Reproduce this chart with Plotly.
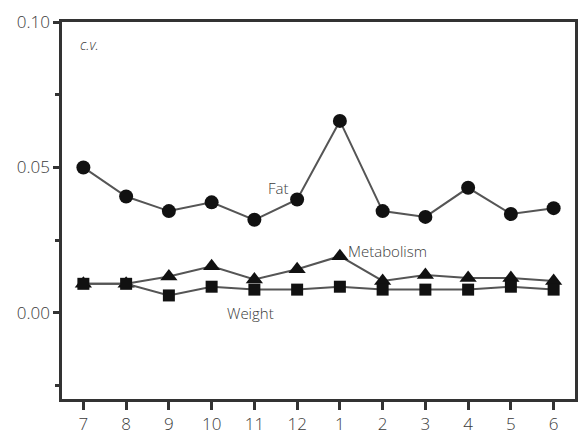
import plotly.graph_objects as go

months = ["7", "8", "9", "10", "11", "12", "1", "2", "3", "4", "5", "6"]
fat = [0.050, 0.040, 0.035, 0.038, 0.032, 0.039, 0.066, 0.035, 0.033, 0.043, 0.034, 0.036]
metabolism = [0.010, 0.010, 0.0125, 0.016, 0.0115, 0.015, 0.0195, 0.011, 0.013, 0.012, 0.012, 0.011]
weight = [0.010, 0.010, 0.006, 0.009, 0.008, 0.008, 0.009, 0.008, 0.008, 0.008, 0.009, 0.008]

xi = list(range(len(months)))
line_col = "#555555"
mk_col = "#111111"
txt_col = "#3a3a3a"
FAM = "Open Sans"

fig = go.Figure()
for ys, sym, sz in [(fat, "circle", 14), (metabolism, "triangle-up", 15), (weight, "square", 12)]:
    fig.add_trace(go.Scatter(
        x=xi, y=ys, mode="lines+markers",
        line=dict(color=line_col, width=2),
        marker=dict(symbol=sym, size=sz, color=mk_col),
        showlegend=False,
    ))

font = dict(family=FAM, size=15, color=txt_col, weight=300)
fig.add_annotation(x=4.56, y=0.0429, xref="x", yref="y", text="Fat", showarrow=False, font=font)
fig.add_annotation(x=7.12, y=0.0214, xref="x", yref="y", text="Metabolism", showarrow=False, font=font)
fig.add_annotation(x=3.9, y=0.0, xref="x", yref="y", text="Weight", showarrow=False, font=font)
fig.add_annotation(x=-0.12, y=0.0922, xref="x", yref="y", text="<i>c.v.</i>", showarrow=False,
                   xanchor="left", font=dict(family=FAM, size=14, color=txt_col, weight=300))

tf = dict(family=FAM, size=17, color=txt_col, weight=300)
fig.update_xaxes(
    range=[-0.5, 11.5], tickmode="array", tickvals=xi, ticktext=months,
    showgrid=False, zeroline=False, showline=True, linecolor="#333333", linewidth=2.5,
    mirror=True, ticks="outside", ticklen=8, tickwidth=2.5, tickcolor="#333333",
    tickfont=tf,
)
fig.update_yaxes(
    range=[-0.0296, 0.1], tickmode="array", tickvals=[0.0, 0.05, 0.10],
    ticktext=["0.00", "0.05", "0.10"],
    showgrid=False, zeroline=False, showline=True, linecolor="#333333", linewidth=2.5,
    mirror=True, ticks="outside", ticklen=6, tickwidth=2.5, tickcolor="#333333",
    tickfont=tf,
    minor=dict(tickvals=[-0.025, 0.025, 0.075], ticks="outside", ticklen=4, tickwidth=2.5,
               tickcolor="#333333", showgrid=False),
)
fig.update_layout(
    width=580, height=437,
    margin=dict(l=62, r=2, t=22, b=35),
    plot_bgcolor="white", paper_bgcolor="white",
)
fig.write_html("out.html")
